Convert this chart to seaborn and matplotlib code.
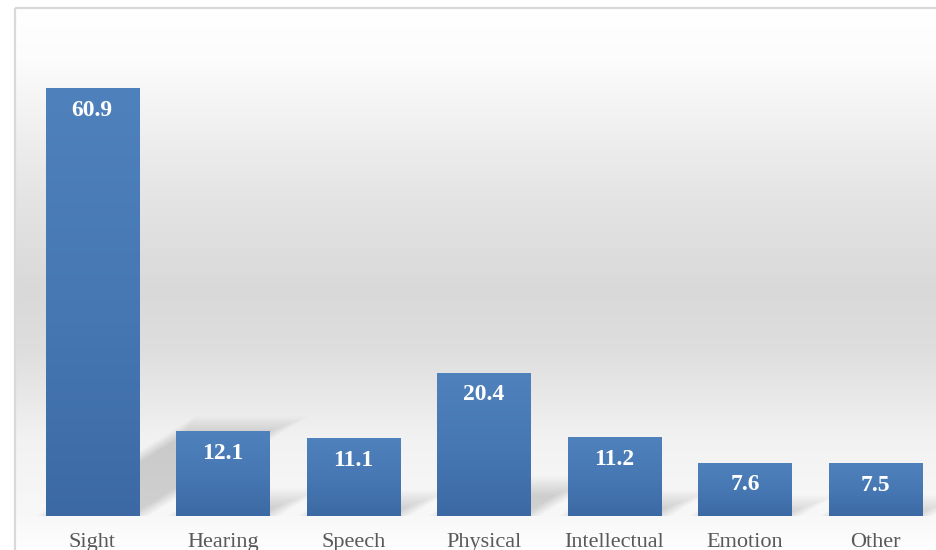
import numpy as np
import matplotlib
matplotlib.use("Agg")
import matplotlib.pyplot as plt
import seaborn as sns
from matplotlib.patches import Polygon, Rectangle
from matplotlib.colors import LinearSegmentedColormap

categories = ["Sight", "Hearing", "Speech", "Physical", "Intellectual", "Emotion", "Other"]
values = [60.9, 12.1, 11.1, 20.4, 11.2, 7.6, 7.5]

sns.set_theme(style="white")
plt.rcParams['font.family'] = ['Liberation Serif', 'DejaVu Serif']

W, H = 937, 550
fig = plt.figure(figsize=(W / 100, H / 100), dpi=100)
fig.patch.set_facecolor("white")

# background panel with vertical gradient
bg = fig.add_axes([0, 0, 1, 1], zorder=0)
bg.set_xlim(0, W)
bg.set_ylim(H, 0)
bg.axis("off")
stop_y = np.array([8, 60, 150, 200, 290, 350, 440, 516, 545, 550])
stop_v = np.array([255, 252, 236, 228, 217, 222, 242, 248, 253, 255]) / 255.0
yy = np.arange(8, H + 1)
grey = np.interp(yy, stop_y, stop_v)
img = np.repeat(grey[:, None], 2, axis=1)
img = np.stack([img, img, img], axis=-1)
bg.imshow(img, extent=[15, W + 5, H, 8], aspect="auto", interpolation="bilinear", zorder=0)
bg.add_patch(Rectangle((15, 8), W, H, fill=False, edgecolor="#d9d9d9", lw=1.6, zorder=1))
bg.set_xlim(0, W)
bg.set_ylim(H, 0)

# main axes
ax = fig.add_axes([27 / W, 34 / H, 914 / W, 492 / H], zorder=2)
ax.patch.set_alpha(0)
sns.barplot(x=categories, y=values, ax=ax, width=0.715, color="#4f81bd", saturation=1,
            linewidth=0, edgecolor="none", zorder=2)

ymax = 70
n = len(categories)
ax.set_xlim(-0.5, n - 0.5)
ax.set_ylim(0, ymax)

px_x = (914 / n)  # px per x unit
px_y = 492 / ymax  # px per y unit

bar_cmap = LinearSegmentedColormap.from_list(
    "bar", [(0, "#3c69a3"), (0.45, "#4677b3"), (1, "#4f81bd")])
grad = np.linspace(0, 1, 256)[:, None]

for p, v in zip(ax.patches, values):
    x0 = p.get_x()
    w = p.get_width()
    x1 = x0 + w
    h = p.get_height()
    # gradient fill clipped to bar
    im = ax.imshow(grad, cmap=bar_cmap, extent=[x0, x1, 0, h], origin="lower",
                   aspect="auto", zorder=2.1, interpolation="bilinear")
    im.set_clip_path(p)
    # perspective shadow (derived from bar geometry)
    hh = 0.21 * h
    shift = 1.6 * hh * px_y / px_x
    layers = 20
    for k in range(layers):
        d = (k - layers / 2) * 1.0  # px
        dx = d / px_x
        dy = d / px_y
        top = max(hh - dy, 0.05)
        sh = shift * top / hh
        poly = Polygon([(x0 + dx, 0), (x1 - dx, 0), (x1 - dx + sh, top), (x0 + dx + sh, top)],
                       closed=True, facecolor="black", edgecolor="none", alpha=0.0085, zorder=1)
        ax.add_patch(poly)
    ax.annotate(f"{v:.1f}", xy=(x0 + w / 2, h), xytext=(0, -16), textcoords="offset points",
                ha="center", va="center", color="white", fontweight="bold", fontsize=17,
                zorder=3)

ax.set_xlim(-0.5, n - 0.5)
ax.set_ylim(0, ymax)
ax.set_yticks([])
ax.set_xlabel("")
ax.set_ylabel("")
for s in ax.spines.values():
    s.set_visible(False)
ax.tick_params(axis="x", length=0, pad=12, labelsize=16, labelcolor="#595959")

fig.savefig("out.png", dpi=100)
